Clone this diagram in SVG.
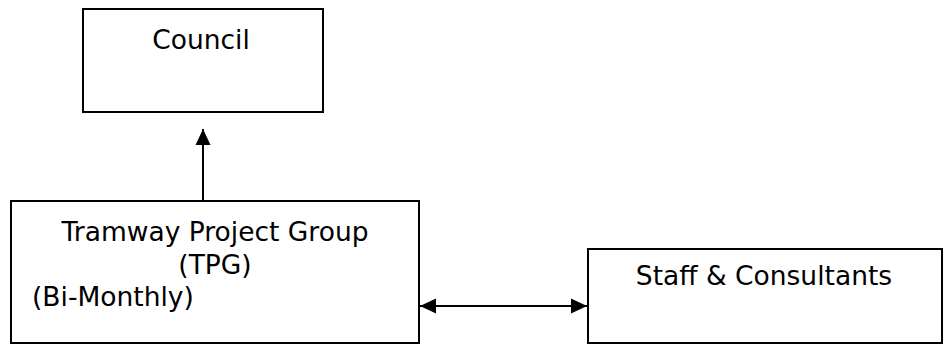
<svg xmlns="http://www.w3.org/2000/svg" width="945" height="345" viewBox="0 0 945 345">
<style>
.box{fill:#fff;stroke:#000;stroke-width:2}
.t{font-family:"DejaVu Sans","Liberation Sans",sans-serif;font-size:26.5px;fill:#000}
.c{stroke:#000;stroke-width:2;fill:none}
</style>
<defs>
<marker id="ah" markerUnits="userSpaceOnUse" markerWidth="16" markerHeight="16" viewBox="0 0 16 16" refX="16" refY="8" orient="auto-start-reverse">
<path d="M0,0.5 L16,8 L0,15.5 Z" fill="#000"/>
</marker>
</defs>
<rect width="945" height="345" fill="#fff"/>
<g id="council">
<rect class="box" x="83" y="9" width="240" height="103"/>
<text class="t" x="201" y="49" text-anchor="middle">Council</text>
</g>
<g id="tpg">
<rect class="box" x="11" y="201" width="408" height="142"/>
<text class="t" x="215" y="241" text-anchor="middle">Tramway Project Group</text>
<text class="t" x="215" y="274" text-anchor="middle">(TPG)</text>
<text class="t" x="32" y="306">(Bi-Monthly)</text>
</g>
<g id="staff">
<rect class="box" x="588" y="249" width="354" height="94"/>
<text class="t" x="764" y="285" text-anchor="middle">Staff &amp; Consultants</text>
</g>
<g id="connectors">
<line class="c" x1="203" y1="201" x2="203" y2="129" marker-end="url(#ah)"/>
<line class="c" x1="420" y1="306" x2="587" y2="306" marker-start="url(#ah)" marker-end="url(#ah)"/>
</g>
</svg>
